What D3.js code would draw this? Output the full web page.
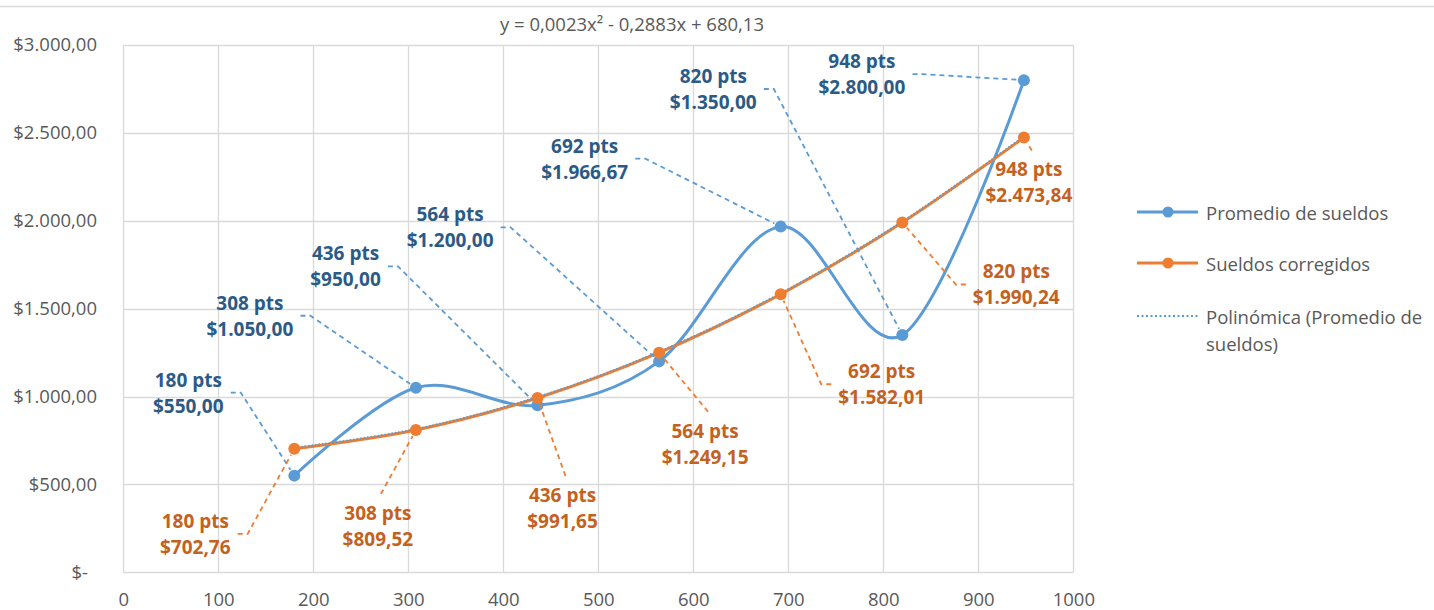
<!DOCTYPE html>
<html>
<head>
<meta charset="utf-8">
<script src="https://cdn.jsdelivr.net/npm/d3@7"></script>
<style>
  html, body { margin: 0; padding: 0; background: #fff; }
  svg { display: block; }
</style>
</head>
<body>
<svg id="chart" width="1434" height="610"></svg>
<script>
// ---------- data ----------
const xValues = [180, 308, 436, 564, 692, 820, 948];
const promedioSueldos = [550, 1050, 950, 1200, 1966.67, 1350, 2800];
const sueldosCorregidos = [702.76, 809.52, 991.65, 1249.15, 1582.01, 1990.24, 2473.84];
const xTicks = [0, 100, 200, 300, 400, 500, 600, 700, 800, 900, 1000];
const yTicks = [0, 500, 1000, 1500, 2000, 2500, 3000];
const yTickLabels = ["$-", "$500,00", "$1.000,00", "$1.500,00", "$2.000,00", "$2.500,00", "$3.000,00"];
const seriesNames = ["Promedio de sueldos", "Sueldos corregidos"];
const trendName = ["Polinómica (Promedio de", "sueldos)"];
const trendEquation = "y = 0,0023x² - 0,2883x + 680,13";

// ---------- layout (label offsets relative to their point, px) ----------
const blueLabelLayout = [[-106,-83,"right"],[-166,-72,"right"],[-192,-139,"right"],[-209,-134,"right"],[-196,-68,"right"],[-189,-246,"right"],[-162,-6,"right"]];
const orangeLabelLayout = [[-99,85,"right"],[-38,96,"top"],[25,110,"top"],[46,91,"top"],[101,90,"left"],[114,62,"left"],[5,45,"top"]];

const C = {
  blue: "#5B9BD5", orange: "#ED7D31",
  blueText: "#2C5A86", orangeText: "#C5611E",
  grid: "#D9D9D9", text: "#595959"
};
const FONT = "'Open Sans', sans-serif";

const svg = d3.select("#chart");
const x = d3.scaleLinear().domain([0, 1000]).range([123.3, 1073.3]);
const y = d3.scaleLinear().domain([0, 3000]).range([572.3, 45]);

const locale = d3.formatLocale({decimal: ",", thousands: ".", grouping: [3], currency: ["$", ""]});
const money = locale.format("$,.2f");

// top border line
svg.append("line").attr("x1", 0).attr("x2", 1434).attr("y1", 6.5).attr("y2", 6.5)
  .attr("stroke", "#D9D9D9").attr("stroke-width", 1.5);

// title
svg.append("text").attr("x", 632).attr("y", 23).attr("text-anchor", "middle")
  .attr("dominant-baseline", "central")
  .style("font-family", FONT).style("font-size", "18.5px").attr("fill", C.text)
  .text(trendEquation);

// gridlines
const grid = svg.append("g");
grid.selectAll(".vg").data(xTicks).join("line")
  .attr("x1", d => Math.round(x(d)) + 0.5).attr("x2", d => Math.round(x(d)) + 0.5)
  .attr("y1", y(3000)).attr("y2", y(0))
  .attr("stroke", C.grid).attr("stroke-width", 1.3);
grid.selectAll(".hg").data(yTicks).join("line")
  .attr("x1", x(0)).attr("x2", x(1000))
  .attr("y1", d => Math.round(y(d)) + 0.5).attr("y2", d => Math.round(y(d)) + 0.5)
  .attr("stroke", C.grid).attr("stroke-width", 1.3);

// axes labels via d3 axes
const xAxis = d3.axisBottom(x).tickValues(xTicks).tickSize(0).tickPadding(0).tickFormat(d => d);
const gx = svg.append("g").attr("transform", "translate(0,600)").call(xAxis);
gx.select(".domain").remove();
gx.selectAll("text").attr("dy", "0.35em").attr("y", 0)
  .style("font-family", FONT).style("font-size", "18.5px").attr("fill", C.text);

const yAxis = d3.axisLeft(y).tickValues(yTicks).tickSize(0).tickPadding(0)
  .tickFormat((d, i) => yTickLabels[i]);
const gy = svg.append("g").attr("transform", "translate(97,0)").call(yAxis);
gy.select(".domain").remove();
gy.selectAll("text").attr("x", d => d === 0 ? -9 : 0)
  .style("font-family", FONT).style("font-size", "18.5px").attr("fill", C.text);

// series lines
const pts1 = xValues.map((v, i) => [v, promedioSueldos[i]]);
const pts2 = xValues.map((v, i) => [v, sueldosCorregidos[i]]);
const smooth = d3.line().x(d => x(d[0])).y(d => y(d[1])).curve(d3.curveCatmullRom.alpha(0));

// leader lines + labels
function drawLabels(pts, layout, textColor, lineColor) {
  const g = svg.append("g");
  pts.forEach((p, i) => {
    const px = x(p[0]), py = y(p[1]);
    const [dx, dy, side] = layout[i];
    const cx = px + dx, cy = py + dy;
    const t = g.append("text").attr("text-anchor", "middle")
      .style("font-family", FONT).style("font-size", "19px").style("font-weight", "700")
      .attr("fill", textColor);
    t.append("tspan").attr("x", cx).attr("y", cy - 13).attr("dominant-baseline", "central").text(p[0] + " pts");
    t.append("tspan").attr("x", cx).attr("y", cy + 13).attr("dominant-baseline", "central").text(money(p[1]));
    const bb = t.node().getBBox();
    let path;
    const end = (ax, ay) => {
      const vx = ax - px, vy = ay - py, L = Math.hypot(vx, vy);
      return [px + vx / L * 7, py + vy / L * 7];
    };
    if (side === "right" || side === "left") {
      const s = side === "right" ? 1 : -1;
      const ax = (side === "right" ? bb.x + bb.width : bb.x) + s * 7;
      const ay = cy;
      const ex = ax + s * 10;
      const e = end(ex, ay);
      path = [[ax, ay], [ex, ay], e];
    } else {
      const ax = cx + 3, ay = cy - 32;
      const e = end(ax, ay);
      path = [[ax, ay], e];
    }
    g.insert("path", "text").attr("d", d3.line()(path)).attr("fill", "none")
      .attr("stroke", lineColor).attr("stroke-width", 1.8).attr("stroke-dasharray", "5,4");
  });
}

svg.append("path").attr("d", smooth(pts1)).attr("fill", "none")
  .attr("stroke", C.blue).attr("stroke-width", 3).attr("stroke-linecap", "round");
svg.append("path").attr("d", smooth(pts2)).attr("fill", "none")
  .attr("stroke", C.orange).attr("stroke-width", 3).attr("stroke-linecap", "round");
// polynomial trendline (passes through corrected values)
svg.append("path").attr("d", smooth(pts2)).attr("fill", "none")
  .attr("transform", "translate(0,-1)")
  .attr("stroke", C.blue).attr("stroke-width", 2).attr("stroke-dasharray", "1.5,2");

svg.append("g").selectAll("circle").data(pts1).join("circle")
  .attr("cx", d => x(d[0])).attr("cy", d => y(d[1])).attr("r", 6).attr("fill", C.blue);
svg.append("g").selectAll("circle").data(pts2).join("circle")
  .attr("cx", d => x(d[0])).attr("cy", d => y(d[1])).attr("r", 6).attr("fill", C.orange);

drawLabels(pts1, blueLabelLayout, C.blueText, C.blue);
drawLabels(pts2, orangeLabelLayout, C.orangeText, C.orange);

// legend
const leg = svg.append("g");
const legRows = [
  {y: 212, color: C.blue, marker: true, dash: null, text: [seriesNames[0]]},
  {y: 263, color: C.orange, marker: true, dash: null, text: [seriesNames[1]]},
  {y: 316, color: C.blue, marker: false, dash: "2,2.5", text: trendName}
];
legRows.forEach(r => {
  leg.append("line").attr("x1", 1137).attr("x2", 1198).attr("y1", r.y).attr("y2", r.y)
    .attr("stroke", r.color).attr("stroke-width", r.dash ? 2 : 3)
    .attr("stroke-dasharray", r.dash);
  if (r.marker) leg.append("circle").attr("cx", 1168).attr("cy", r.y).attr("r", 5.5).attr("fill", r.color);
  r.text.forEach((t, k) => {
    leg.append("text").attr("x", 1206).attr("y", r.y + k * 27).attr("dominant-baseline", "central")
      .style("font-family", FONT).style("font-size", "18.5px").attr("fill", C.text).text(t);
  });
});
</script>
</body>
</html>
